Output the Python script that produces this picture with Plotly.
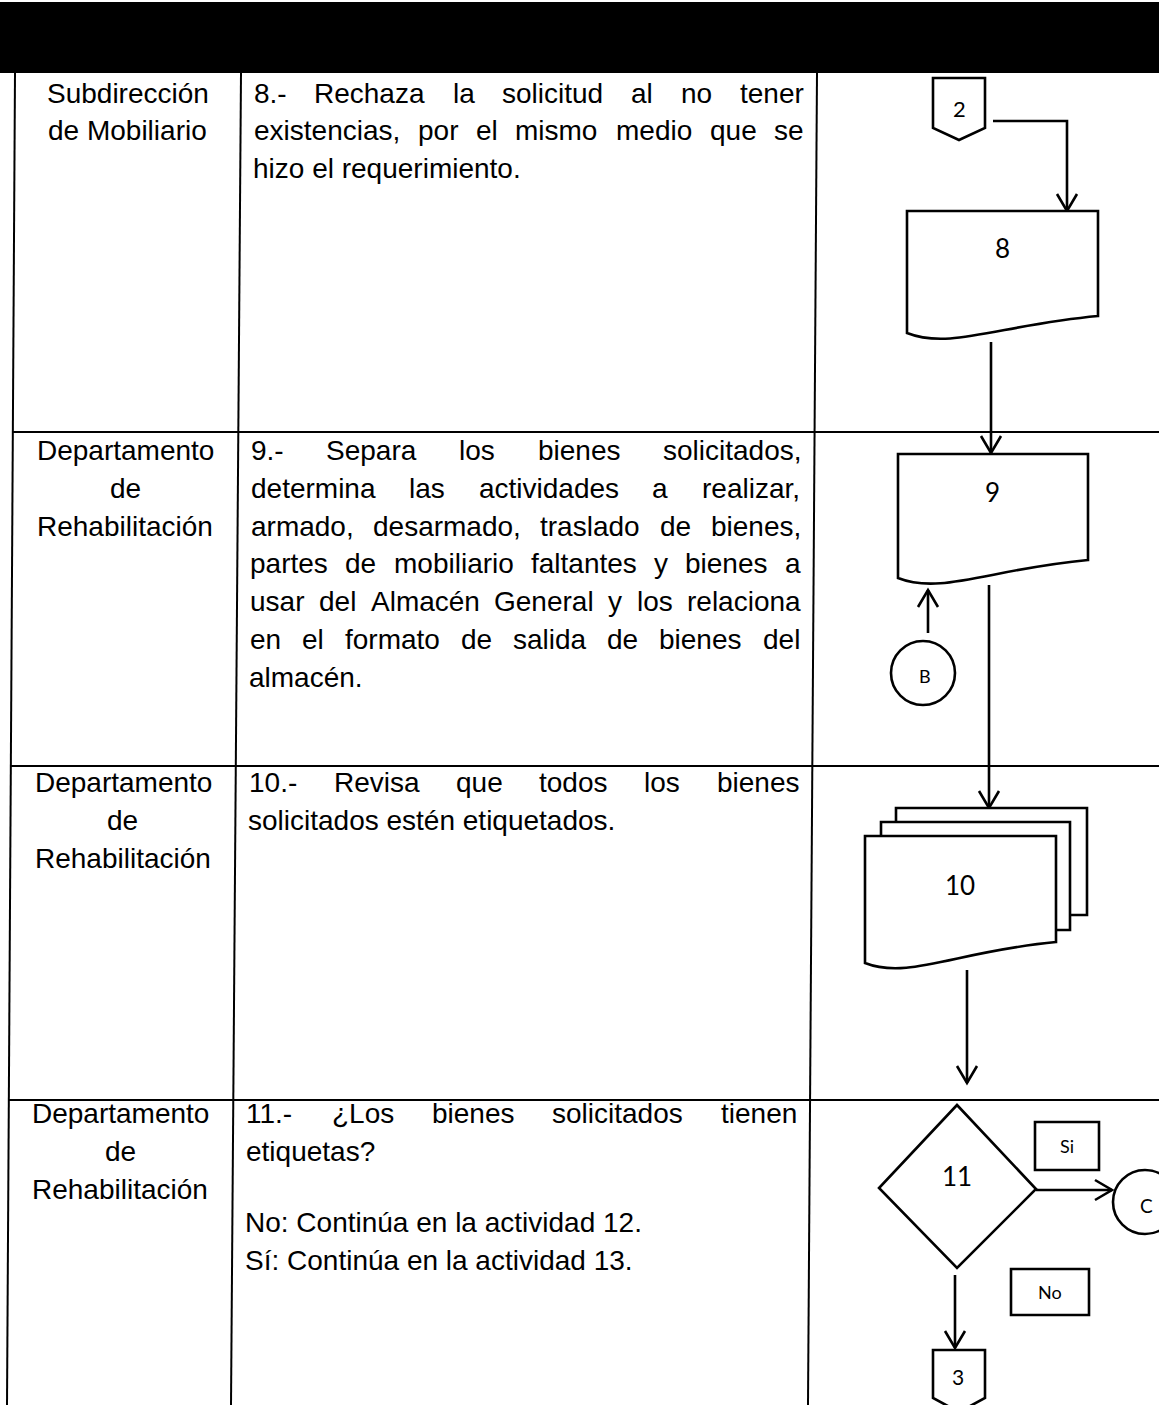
import plotly.graph_objects as go

# ---------------- data (texts of the procedure table) ----------------
actors = [
    ["Subdirección", "de Mobiliario"],
    ["Departamento", "de", "Rehabilitación"],
    ["Departamento", "de", "Rehabilitación"],
    ["Departamento", "de", "Rehabilitación"],
]
activities = [
    [["8.- Rechaza la solicitud al no tener",
      "existencias, por el mismo medio que se",
      "hizo el requerimiento."]],
    [["9.- Separa los bienes solicitados,",
      "determina las actividades a realizar,",
      "armado, desarmado, traslado de bienes,",
      "partes de mobiliario faltantes y bienes a",
      "usar del Almacén General y los relaciona",
      "en el formato de salida de bienes del",
      "almacén."]],
    [["10.- Revisa que todos los bienes",
      "solicitados estén etiquetados."]],
    [["11.- ¿Los bienes solicitados tienen",
      "etiquetas?"],
     ["No: Continúa en la actividad 12."],
     ["Sí: Continúa en la actividad 13."]],
]
step_labels = ["8", "9", "10", "11"]
connector_in = "2"
connector_b = "B"
connector_c = "C"
connector_out = "3"
branch_yes = "Si"
branch_no = "No"

# ---------------- layout geometry ----------------
W, H = 1159, 1405
HEADER_BOTTOM = 73
row_lines = [432, 766, 1100]
actor_baselines = [[103, 140], [460, 498, 536], [792, 830, 868], [1123, 1161, 1199]]
activity_baselines = [
    [[103, 140, 178]],
    [[460, 498, 536, 573, 611, 649, 687]],
    [[792, 830]],
    [[1123, 1161], [1232], [1270]],
]
FONT_TXT = "Liberation Sans, Arial, sans-serif"
FONT_SHAPE = "Lato, Carlito, Calibri, sans-serif"
FS = 28
BASE_OFF = 9.7  # baseline -> middle of text box


def skew(x_top, x_bot):
    return lambda y: x_top + (x_bot - x_top) * (y - HEADER_BOTTOM) / (H - HEADER_BOTTOM)


left_border = skew(15, 7)
div1 = skew(241, 231)
div2 = skew(817, 808)

AW = {' ': 278, '!': 278, ',': 278, '-': 333, '.': 278, ':': 278, '?': 556, '¿': 611,
      'A': 667, 'B': 667, 'C': 722, 'D': 722, 'E': 667, 'F': 611, 'G': 778, 'H': 722,
      'I': 278, 'L': 556, 'M': 833, 'N': 722, 'O': 778, 'P': 667, 'R': 722, 'S': 667,
      'T': 611, 'a': 556, 'b': 556, 'c': 500, 'd': 556, 'e': 556, 'f': 278, 'g': 556,
      'h': 556, 'i': 222, 'j': 222, 'k': 500, 'l': 222, 'm': 833, 'n': 556, 'o': 556,
      'p': 556, 'q': 556, 'r': 333, 's': 500, 't': 278, 'u': 556, 'v': 500, 'w': 722,
      'x': 500, 'y': 500, 'z': 500, 'á': 556, 'é': 556, 'í': 278, 'ó': 556, 'ú': 556,
      'ñ': 556}


def text_width(s):
    return sum(AW.get(ch, 556) for ch in s) * FS / 1000.0


fig = go.Figure()
fig.add_trace(go.Scatter(x=[0], y=[0], mode="markers", marker=dict(opacity=0),
                         hoverinfo="skip", showlegend=False))

shapes = []
annotations = []


def add_line(x0, y0, x1, y1, w=2.0):
    shapes.append(dict(type="line", x0=x0, y0=y0, x1=x1, y1=y1,
                       line=dict(color="black", width=w)))


def add_path(p, w=2.6, fill="white"):
    shapes.append(dict(type="path", path=p, fillcolor=fill,
                       line=dict(color="black", width=w)))


def add_arrow(points, w=2.6, head_len=17, head_hw=10):
    p = "M " + " L ".join(f"{x},{y}" for x, y in points)
    shapes.append(dict(type="path", path=p, line=dict(color="black", width=w)))
    (xa, ya), (xb, yb) = points[-2], points[-1]
    dx, dy = xb - xa, yb - ya
    n = (dx * dx + dy * dy) ** 0.5
    ux, uy = dx / n, dy / n
    px, py = -uy, ux
    bx, by = xb - ux * head_len, yb - uy * head_len
    hp = (f"M {bx + px * head_hw},{by + py * head_hw} L {xb},{yb} "
          f"L {bx - px * head_hw},{by - py * head_hw}")
    shapes.append(dict(type="path", path=hp, line=dict(color="black", width=w)))


def doc_path(xl, xr, yt, ybl, ybr):
    w = xr - xl
    c1 = (xl + 0.225 * w, ybl + 17)
    c2 = (xl + 0.487 * w, ybr + 9)
    return (f"M {xl},{yt} L {xr},{yt} L {xr},{ybr} "
            f"C {c2[0]},{c2[1]} {c1[0]},{c1[1]} {xl},{ybl} Z")


def label(x, y, s, size, family=FONT_SHAPE):
    annotations.append(dict(x=x, y=y, text=s, showarrow=False, xref="x", yref="y",
                            xanchor="center", yanchor="middle",
                            font=dict(family=family, size=size, color="black")))


# ---------------- table ----------------
shapes.append(dict(type="rect", x0=0, x1=W, y0=2, y1=HEADER_BOTTOM,
                   fillcolor="black", line=dict(width=0)))
add_line(left_border(HEADER_BOTTOM), HEADER_BOTTOM, left_border(H), H)
add_line(div1(HEADER_BOTTOM), HEADER_BOTTOM, div1(H), H)
add_line(div2(HEADER_BOTTOM), HEADER_BOTTOM, div2(H), H)
for yl in row_lines:
    add_line(left_border(yl), yl, W, yl)

# actors (centered)
for lines, bls in zip(actors, actor_baselines):
    for s, b in zip(lines, bls):
        cx = (left_border(b) + div1(b)) / 2
        annotations.append(dict(x=cx, y=b - BASE_OFF, text=s, showarrow=False,
                                xref="x", yref="y", xanchor="center", yanchor="middle",
                                font=dict(family=FONT_TXT, size=FS, color="black")))

# activities (justified paragraphs)
for paras, para_bls in zip(activities, activity_baselines):
    for para, bls in zip(paras, para_bls):
        for i, (s, b) in enumerate(zip(para, bls)):
            xl = div1(b) + 11
            xr = div2(b) - 15
            justify = i < len(para) - 1
            if not justify:
                annotations.append(dict(x=xl, y=b - BASE_OFF, text=s, showarrow=False,
                                        xref="x", yref="y", xanchor="left",
                                        yanchor="middle",
                                        font=dict(family=FONT_TXT, size=FS, color="black")))
                continue
            words = s.split(" ")
            widths = [text_width(wd) for wd in words]
            gap = (xr - xl - sum(widths)) / (len(words) - 1)
            x = xl
            for wd, ww in zip(words, widths):
                annotations.append(dict(x=x, y=b - BASE_OFF, text=wd, showarrow=False,
                                        xref="x", yref="y", xanchor="left",
                                        yanchor="middle",
                                        font=dict(family=FONT_TXT, size=FS, color="black")))
                x += ww + gap

# ---------------- flowchart ----------------
# off-page connector 2
add_path("M 933,78 L 985,78 L 985,128 L 959,140 L 933,128 Z")
label(959, 108, connector_in, 22)
add_arrow([(993, 121), (1067, 121), (1067, 211)])

# document 8
add_path(doc_path(907, 1098, 211, 333, 316))
label(1002, 248, step_labels[0], 26)
add_arrow([(991, 342), (991, 453)])

# document 9
add_path(doc_path(898, 1088, 454, 578, 560))
label(992, 492, step_labels[1], 26)

# connector B
shapes.append(dict(type="circle", x0=891, x1=955, y0=641, y1=705,
                   fillcolor="white", line=dict(color="black", width=2.6)))
label(925, 676, connector_b, 18)
add_arrow([(928, 633), (928, 590)])

add_arrow([(989, 585), (989, 808)])

# multi-document 10
add_path("M 896,915 L 896,808 L 1087,808 L 1087,915 Z")
add_path("M 881,930 L 881,822 L 1070,822 L 1070,930 Z")
add_path(doc_path(865, 1056, 836, 963, 942))
label(960, 885, step_labels[2], 26)
add_arrow([(967, 970), (967, 1083)])

# decision 11
add_path("M 957,1105 L 1036,1189 L 957,1268 L 879,1188 Z")
label(957, 1176, step_labels[3], 26)
add_path("M 1035,1122 L 1099,1122 L 1099,1170 L 1035,1170 Z")
label(1067, 1146, branch_yes, 18)
add_arrow([(1036, 1190), (1112, 1190)])
shapes.append(dict(type="circle", x0=1113, x1=1177, y0=1170, y1=1234,
                   fillcolor="white", line=dict(color="black", width=2.6)))
label(1146, 1205, connector_c, 19)
add_path("M 1011,1269 L 1089,1269 L 1089,1315 L 1011,1315 Z")
label(1050, 1292, branch_no, 18)
add_arrow([(955, 1275), (955, 1348)])

# off-page connector 3
add_path("M 933,1350 L 985,1350 L 985,1398 L 959,1412 L 933,1398 Z")
label(958, 1376, connector_out, 21)

fig.update_layout(
    width=W, height=H,
    margin=dict(l=0, r=0, t=0, b=0),
    paper_bgcolor="white", plot_bgcolor="white",
    xaxis=dict(range=[0, W], visible=False, fixedrange=True),
    yaxis=dict(range=[H, 0], visible=False, fixedrange=True),
    shapes=shapes, annotations=annotations, showlegend=False,
)
fig.write_html(
    "out.html",
    config={"displayModeBar": False},
    post_script="document.body.style.margin='0px';document.body.style.overflow='hidden';",
)
